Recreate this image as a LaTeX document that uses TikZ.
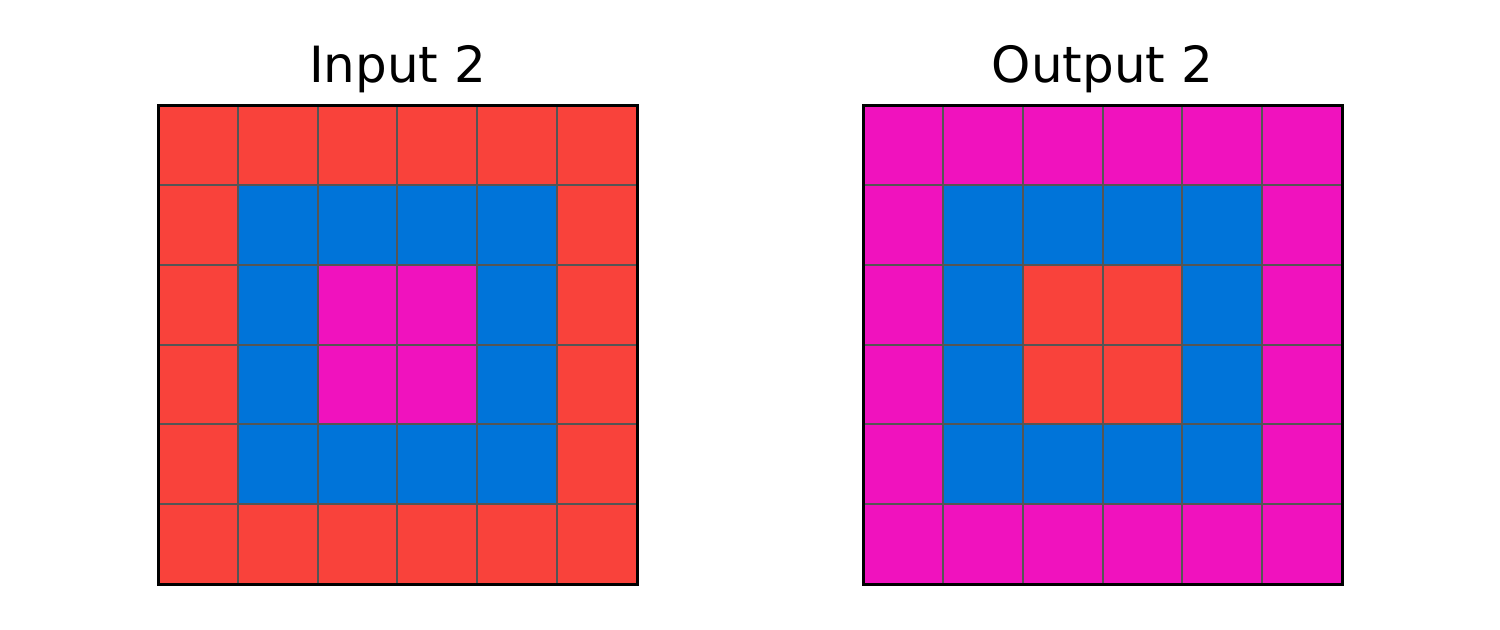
\documentclass[tikz,border=0pt]{standalone}
\usepackage{fontspec}
\setmainfont{DejaVu Sans}
\usetikzlibrary{positioning}
\definecolor{arcred}{RGB}{249, 66, 59}
\definecolor{arcblue}{RGB}{0, 116, 217}
\definecolor{arcpink}{RGB}{240, 18, 190}
\definecolor{gridgray}{RGB}{85, 85, 85}

\begin{document}
\begin{tikzpicture}[x=0.01cm, y=-0.01cm,
    cell/.style={draw=gridgray, line width=0.02cm},
    frame/.style={draw=black, line width=0.03cm},
    title/.style={font=\fontsize{14.2}{17}\selectfont, anchor=base}]
    \useasboundingbox (0,0) rectangle (1500,629);

    % Input grid: red border, blue ring, pink centre
    \foreach \i in {0,...,5} \foreach \j in {0,...,5} {
        \pgfmathtruncatemacro{\ring}{min(min(\i,\j),min(5-\i,5-\j))}
        \ifcase\ring \def\cc{arcred}\or \def\cc{arcblue}\else \def\cc{arcpink}\fi
        \fill[\cc] (158+79.83*\i, 105+79.83*\j) rectangle ++(79.83, 79.83);
    }
    % Output grid: colours of border and centre swapped
    \foreach \i in {0,...,5} \foreach \j in {0,...,5} {
        \pgfmathtruncatemacro{\ring}{min(min(\i,\j),min(5-\i,5-\j))}
        \ifcase\ring \def\cc{arcpink}\or \def\cc{arcblue}\else \def\cc{arcred}\fi
        \fill[\cc] (863+79.83*\i, 105+79.83*\j) rectangle ++(79.83, 79.83);
    }

    % grid lines
    \foreach \x in {158, 863} \foreach \k in {1,...,5} {
        \draw[cell] (\x+79.83*\k, 105) -- ++(0, 479);
        \draw[cell] (\x, 105+79.83*\k) -- ++(479, 0);
    }
    \draw[frame] (158,105) rectangle (637,584);
    \draw[frame] (863,105) rectangle (1342,584);

    % titles
    \node[title] (inTitle) at (397.5, 82) {Input 2};
    \node[title] (outTitle) at (1102.5, 82) {Output 2};
\end{tikzpicture}
\end{document}
